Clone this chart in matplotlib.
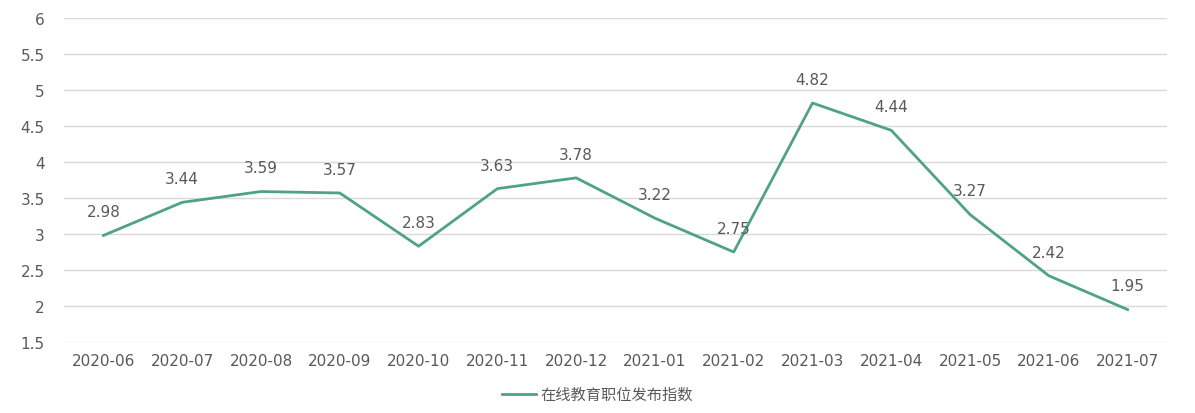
import matplotlib
matplotlib.use('Agg')
import matplotlib.pyplot as plt

plt.rcParams['font.family'] = ['DejaVu Sans', 'Noto Sans CJK SC']

# Daten
monate = ['2020-06', '2020-07', '2020-08', '2020-09', '2020-10', '2020-11', '2020-12',
          '2021-01', '2021-02', '2021-03', '2021-04', '2021-05', '2021-06', '2021-07']
index_werte = [2.98, 3.44, 3.59, 3.57, 2.83, 3.63, 3.78, 3.22, 2.75, 4.82, 4.44, 3.27, 2.42, 1.95]
serie_name = '在线教育职位发布指数'

linien_farbe = '#4FA384'
text_farbe = '#595959'

fig = plt.figure(figsize=(11.95, 4.14), dpi=100)
ax = fig.add_axes([0.0536, 0.1715, 0.923, 0.7825])

x = list(range(len(monate)))
ax.plot(x, index_werte, color=linien_farbe, linewidth=2, label=serie_name)

for xi, wert in zip(x, index_werte):
    ax.annotate(f'{wert:.2f}', (xi, wert), xytext=(0, 17), textcoords='offset points',
                ha='center', va='center', fontsize=11, color=text_farbe)

ax.set_xlim(-0.5, len(monate) - 0.5)
ax.set_ylim(1.5, 6)
ax.set_yticks([1.5, 2, 2.5, 3, 3.5, 4, 4.5, 5, 5.5, 6])
ax.set_yticklabels(['1.5', '2', '2.5', '3', '3.5', '4', '4.5', '5', '5.5', '6'])
ax.set_xticks(x)
ax.set_xticklabels(monate)
ax.tick_params(axis='both', length=0, labelsize=11, colors=text_farbe)
ax.tick_params(axis='x', pad=8)
ax.tick_params(axis='y', pad=14)
ax.grid(axis='y', color='#D9D9D9', linewidth=1)
ax.set_axisbelow(True)
for s in ax.spines.values():
    s.set_visible(False)

fig.legend(loc='center', bbox_to_anchor=(0.5, 0.045), frameon=False, fontsize=11,
           labelcolor=text_farbe, handlelength=2.2, handletextpad=0.3,
           prop={'family': ['Noto Sans CJK SC', 'DejaVu Sans'], 'size': 11})

fig.savefig('out.png', dpi=100)
